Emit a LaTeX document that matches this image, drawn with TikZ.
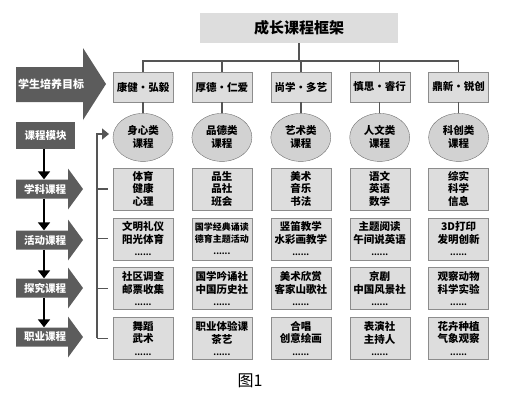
\documentclass[tikz,border=0pt]{standalone}
\usepackage{fontspec}
\setmainfont{Noto Sans CJK SC}
\usetikzlibrary{shapes.geometric, positioning, arrows.meta}
\definecolor{boxgray}{HTML}{DDDDDD}
\definecolor{edgegray}{HTML}{8C8C8C}
\definecolor{darkgray}{HTML}{5C5C5C}
\definecolor{linegray}{HTML}{555555}
\newcommand{\more}{{\fontsize{8}{10}\selectfont ......}} % dotted last line of a course box
\tikzset{
  title/.style={fill=boxgray, minimum width=198pt, minimum height=30pt, font=\fontsize{15}{15}\selectfont\bfseries}, % top heading
  goal/.style={draw=edgegray, fill=boxgray, minimum width=60pt, minimum height=30pt, inner sep=0pt, font=\fontsize{10.5}{12}\selectfont\bfseries},
  kind/.style={ellipse, draw=edgegray!80!black, fill=boxgray!95!black, minimum width=60pt, minimum height=48pt, inner sep=0pt, align=center, font=\fontsize{10.5}{13}\selectfont\bfseries},
  course/.style={draw=edgegray, fill=boxgray, minimum width=60pt, minimum height=42pt, inner sep=0pt, align=center, font=\fontsize{10.5}{12.3}\selectfont\bfseries},
  modtxt/.style={text=white, inner sep=0pt, font=\fontsize{10.5}{12}\selectfont\bfseries}, % text on the dark arrows
  link/.style={draw=linegray, line width=1.5pt},
  down/.style={line width=1.8pt, -{Triangle[width=12pt,length=8pt]}},
}

\begin{document}
\begin{tikzpicture}[x=1pt, y=-1pt]
  \useasboundingbox (0,0) rectangle (508,400);

  % heading and goals
  \node[title] (top) at (299,28) {成长课程框架};
  \node[goal] (g1) at (143,87) {康健·弘毅};
  \node[goal, right=18.5pt of g1] (g2) {厚德·仁爱};
  \node[goal, right=18.5pt of g2] (g3) {尚学·多艺};
  \node[goal, right=18.5pt of g3] (g4) {慎思·睿行};
  \node[goal, right=18.5pt of g4] (g5) {鼎新·锐创};
  \coordinate (bar) at (299,61);
  \draw[link] (top) -- (bar);
  \foreach \i in {1,...,5}
    \draw[link] (g\i.north) |- (bar);

  % course kinds
  \node[kind, below=11pt of g1] (m1) {身心类\\课程};
  \node[kind, below=11pt of g2] (m2) {品德类\\课程};
  \node[kind, below=11pt of g3] (m3) {艺术类\\课程};
  \node[kind, below=11pt of g4] (m4) {人文类\\课程};
  \node[kind, below=11pt of g5] (m5) {科创类\\课程};
  \foreach \i in {1,...,5}
    \draw[link] (g\i.south) -- (m\i.north);

  % subject courses
  \node[course, below=6pt of m1] (c11) {体育\\健康\\心理};
  \node[course, below=6pt of m2] (c12) {品生\\品社\\班会};
  \node[course, below=6pt of m3] (c13) {美术\\音乐\\书法};
  \node[course, below=6pt of m4] (c14) {语文\\英语\\数学};
  \node[course, below=6pt of m5] (c15) {综实\\科学\\信息};
  % activity courses
  \node[course, below=7.5pt of c11] (c21) {文明礼仪\\阳光体育\\\more};
  \node[course, below=7.5pt of c12, font=\fontsize{9}{12.3}\selectfont\bfseries] (c22) {国学经典诵读\\德育主题活动\\\more};
  \node[course, below=7.5pt of c13] (c23) {竖笛教学\\水彩画教学\\\more};
  \node[course, below=7.5pt of c14] (c24) {主题阅读\\午间说英语\\\more};
  \node[course, below=7.5pt of c15] (c25) {3D打印\\发明创新\\\more};
  % inquiry courses
  \node[course, below=7.5pt of c21] (c31) {社区调查\\邮票收集\\\more};
  \node[course, below=7.5pt of c22] (c32) {国学吟诵社\\中国历史社\\\more};
  \node[course, below=7.5pt of c23] (c33) {美术欣赏\\客家山歌社\\\more};
  \node[course, below=7.5pt of c24] (c34) {京剧\\中国风景社\\\more};
  \node[course, below=7.5pt of c25] (c35) {观察动物\\科学实验\\\more};
  % career courses
  \node[course, below=7.5pt of c31] (c41) {舞蹈\\武术\\\more};
  \node[course, below=7.5pt of c32] (c42) {职业体验课\\茶艺\\\more};
  \node[course, below=7.5pt of c33] (c43) {合唱\\创意绘画\\\more};
  \node[course, below=7.5pt of c34] (c44) {表演社\\主持人\\\more};
  \node[course, below=7.5pt of c35] (c45) {花卉种植\\气象观察\\\more};

  % big arrow for the goals
  \fill[darkgray] (16,67) -- (83,67) -- (83,48) -- (106,84) -- (83,120) -- (83,102) -- (16,102) -- cycle;
  \node[modtxt, font=\fontsize{11}{12}\selectfont\bfseries] (aim) at (51,84) {学生培养目标};

  % module chain on the left
  \node[fill=darkgray, text=white, minimum width=59pt, minimum height=27pt, inner sep=0pt, font=\fontsize{10.5}{12}\selectfont\bfseries] (mods) at (45.5,135.5) {课程模块};
  \foreach \y in {189,240,288,337}
    \fill[darkgray] (16,\y-9.5) -- (68,\y-9.5) -- (68,\y-20.5) -- (83,\y) -- (68,\y+20.5) -- (68,\y+9.5) -- (16,\y+9.5) -- cycle;
  \node[modtxt, minimum height=19pt] (a1) at (45,189) {学科课程};
  \node[modtxt, minimum height=19pt] (a2) at (45,240) {活动课程};
  \node[modtxt, minimum height=19pt] (a3) at (45,288) {探究课程};
  \node[modtxt, minimum height=19pt] (a4) at (45,337) {职业课程};
  \draw[down] (mods.south -| 44,0) -- (a1.north -| 44,0);
  \draw[down] (a1.south -| 44,0) -- (a2.north -| 44,0);
  \draw[down] (a2.south -| 44,0) -- (a3.north -| 44,0);
  \draw[down] (a3.south -| 44,0) -- (a4.north -| 44,0);

  % bracket to the columns
  \coordinate (bt) at (97,134);
  \coordinate (bb) at (97,337);
  \coordinate (bq) at (109,134);
  \draw[link, line cap=rect] (bb) -- (bt);
  \draw[link, -{Triangle[width=11pt,length=7pt]}, color=linegray] (bt) -- (bq);
  \foreach \r in {1,...,4}
    \draw[link] (bt |- c\r1.west) -- ++(11,0);

  \node[font=\fontsize{16}{16}\selectfont] (cap) at (250,381) {图1};
\end{tikzpicture}
\end{document}
